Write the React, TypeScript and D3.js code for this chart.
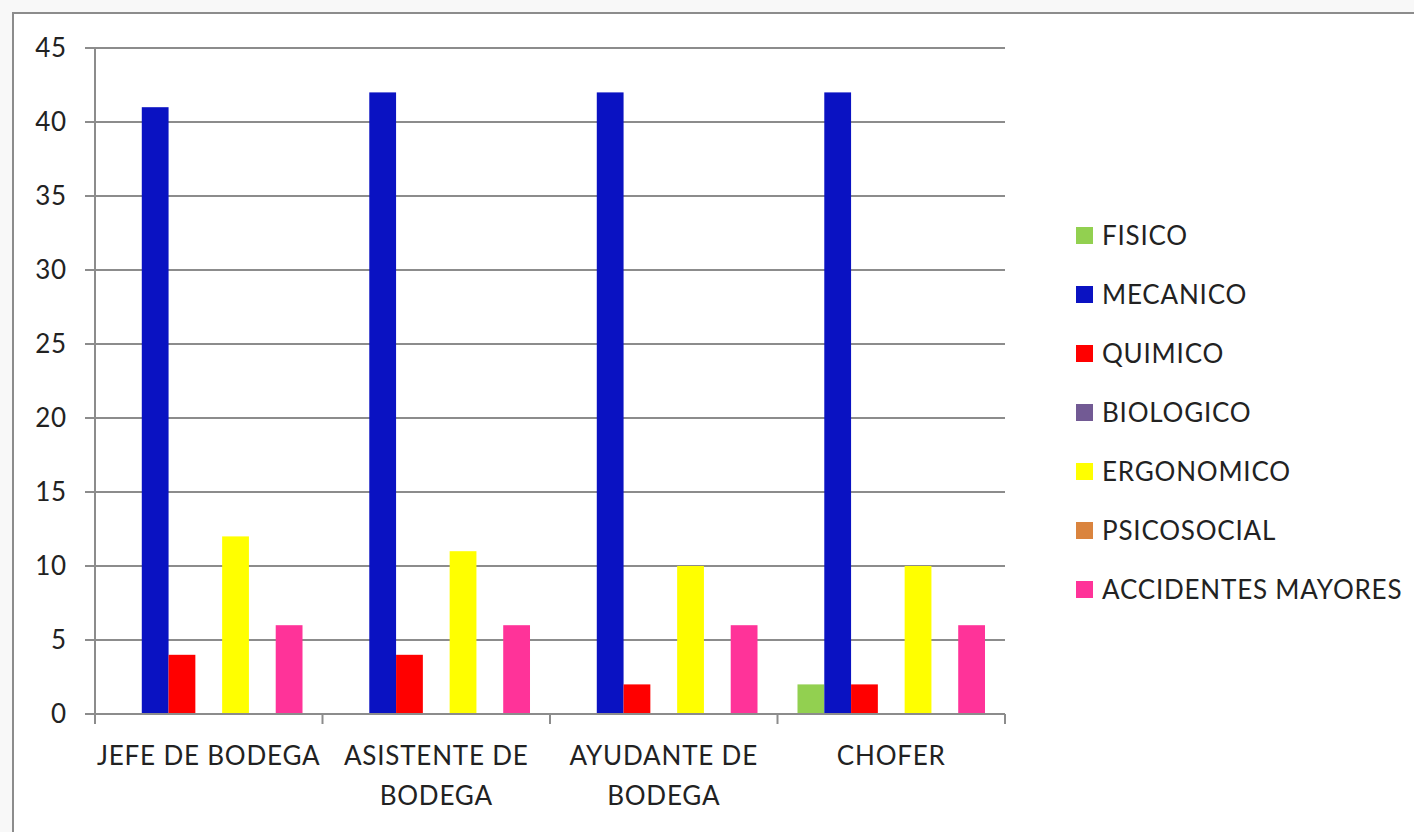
import React from "react";
import * as d3 from "d3";

const categories = [["JEFE DE BODEGA"], ["ASISTENTE DE", "BODEGA"], ["AYUDANTE DE", "BODEGA"], ["CHOFER"]];
const seriesNames = ["FISICO", "MECANICO", "QUIMICO", "BIOLOGICO", "ERGONOMICO", "PSICOSOCIAL", "ACCIDENTES MAYORES"];
const seriesColors = ["#92D050", "#0A12C2", "#FF0000", "#725A94", "#FFFF00", "#DA843E", "#FF3399"];
const fisico = [0, 0, 0, 2];
const mecanico = [41, 42, 42, 42];
const quimico = [4, 4, 2, 2];
const biologico = [0, 0, 0, 0];
const ergonomico = [12, 11, 10, 10];
const psicosocial = [0, 0, 0, 0];
const accidentes = [6, 6, 6, 6];
const yTicks = [0, 5, 10, 15, 20, 25, 30, 35, 40, 45];

const seriesValues = [fisico, mecanico, quimico, biologico, ergonomico, psicosocial, accidentes];

export default function App() {
  const W = 1414, H = 832;
  const left = 95, right = 1005, top = 48, bottom = 714;
  const font = "Lato, 'Open Sans', sans-serif";
  const fs = 26;
  const ls = 0.8;
  const x0 = d3.scaleBand<number>().domain(d3.range(categories.length)).range([left, right]).paddingInner(0).paddingOuter(0);
  const inner = x0.bandwidth();
  const pad = inner * 0.0879;
  const x1 = d3.scaleBand<number>().domain(d3.range(seriesNames.length)).range([pad, inner - pad]).padding(0);
  const y = d3.scaleLinear().domain([0, 45]).range([bottom, top]);
  const grid = "#8c8c8c";
  return (
    <svg width={W} height={H} style={{ position: "absolute", left: 0, top: 0, background: "#fff" }}>
      <rect x={0} y={0} width={W} height={H} fill="#f8f8f8" />
      <rect x={13} y={13} width={W} height={H} fill="#fff" stroke={grid} strokeWidth={2} />
      {yTicks.map((t) => (
        <g key={t}>
          <line x1={85} x2={right} y1={y(t)} y2={y(t)} stroke={grid} strokeWidth={2} />
          <text x={67} y={y(t)} dy="0.36em" textAnchor="end" fontFamily={font} fontSize={fs} letterSpacing={ls} fill="#222">{t}</text>
        </g>
      ))}
      <line x1={left} x2={left} y1={top} y2={bottom + 10} stroke={grid} strokeWidth={2} />
      {d3.range(categories.length + 1).map((i) => {
        const xx = i < categories.length ? x0(i)! : right;
        return <line key={i} x1={xx} x2={xx} y1={bottom} y2={bottom + 10} stroke={grid} strokeWidth={2} />;
      })}
      {seriesValues.map((vals, s) => (
        <g key={s}>
          {vals.map((v, c) => v > 0 ? (
            <rect key={c} x={x0(c)! + x1(s)!} y={y(v)} width={x1.bandwidth()} height={y(0) - y(v)} fill={seriesColors[s]} />
          ) : null)}
        </g>
      ))}
      <line x1={left} x2={right} y1={bottom} y2={bottom} stroke={grid} strokeWidth={2} />
      {categories.map((lines, c) => (
        <text key={c} x={x0(c)! + inner / 2} y={765} textAnchor="middle" fontFamily={font} fontSize={fs} letterSpacing={ls} fill="#222">
          {lines.map((l, i) => (
            <tspan key={i} x={x0(c)! + inner / 2} dy={i === 0 ? 0 : 40}>{l}</tspan>
          ))}
        </text>
      ))}
      {seriesNames.map((n, i) => (
        <g key={n} transform={`translate(1076, ${236 + i * 59})`}>
          <rect x={0} y={-9} width={17} height={17} fill={seriesColors[i]} />
          <text x={26} y={0} dy="0.36em" fontFamily={font} fontSize={fs} letterSpacing={ls} fill="#222">{n}</text>
        </g>
      ))}
    </svg>
  );
}
